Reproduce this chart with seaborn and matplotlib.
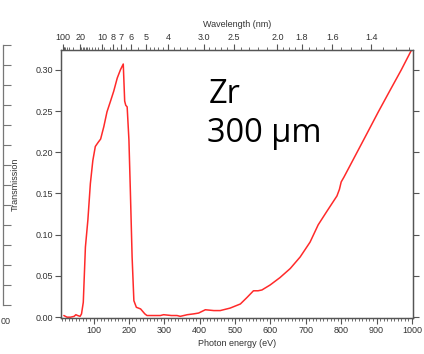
import numpy as np
import seaborn as sns
import matplotlib.pyplot as plt

# Zr 300 um transmission
energy = [16, 25, 35, 45, 50, 55, 62, 66, 71, 77, 84, 91, 98, 105, 113, 120,
          129, 138, 148, 157, 167, 176, 184, 188, 191, 195, 200, 204, 209, 214,
          221, 233, 245, 251, 270, 289, 298, 320, 336, 345, 365, 383, 397, 416,
          440, 458, 486, 515, 534, 552, 565, 576, 599, 627, 656, 684, 712, 735,
          759, 788, 795, 800, 808, 840, 872, 905, 938, 970, 1000]
transmission = [0.002, 0.000, 0.000, 0.001, 0.003, 0.002, 0.001, 0.004, 0.018,
                0.085, 0.118, 0.162, 0.190, 0.207, 0.212, 0.216, 0.231, 0.249,
                0.262, 0.274, 0.290, 0.300, 0.307, 0.262, 0.257, 0.255, 0.215,
                0.154, 0.073, 0.020, 0.012, 0.010, 0.004, 0.002, 0.002, 0.002,
                0.003, 0.002, 0.002, 0.001, 0.003, 0.004, 0.005, 0.009, 0.008,
                0.008, 0.011, 0.016, 0.024, 0.032, 0.032, 0.033, 0.039, 0.048,
                0.059, 0.073, 0.091, 0.112, 0.128, 0.147, 0.155, 0.164, 0.170,
                0.196, 0.222, 0.249, 0.275, 0.300, 0.325]

y_ticks = [0.00, 0.05, 0.10, 0.15, 0.20, 0.25, 0.30]
x_ticks = [100, 200, 300, 400, 500, 600, 700, 800, 900, 1000]
wl_labels = ["100", "20", "10", "8", "7", "6", "5", "4", "3.0", "2.5", "2.0", "1.8", "1.6", "1.4"]
wl_minor = ([90, 80, 70, 60, 50, 40, 30] + list(range(19, 10, -1)) +
            [9.5, 8.5, 7.5, 6.5, 5.5, 4.8, 4.6, 4.4, 4.2, 3.8, 3.6, 3.4, 3.2,
             2.9, 2.8, 2.7, 2.6, 2.4, 2.3, 2.2, 2.1, 1.95, 1.9, 1.85, 1.75, 1.7,
             1.65, 1.55, 1.5, 1.45, 1.35, 1.3, 1.25])

hc = 1239.84  # eV nm

sns.set_theme(style="ticks")
plt.rcParams['font.family'] = ['Liberation Sans', 'DejaVu Sans']
spine_col = '#555555'
text_col = '#333333'

fig = plt.figure(figsize=(4.24, 3.54), dpi=100)
W, H = 424, 354
ax = fig.add_axes([61 / W, (H - 318) / H, (413 - 61) / W, (318 - 50) / H])

sns.lineplot(x=energy, y=transmission, color='#ff2a2a', lw=1.1, ax=ax)
ax.set_xlim(8, 1003)
ax.set_ylim(-0.001, 0.324)

ax.set_xticks(x_ticks)
ax.set_xticks(np.arange(10, 1001, 10), minor=True)
ax.set_yticks(y_ticks)
ax.set_yticklabels([f"{v:.2f}" for v in y_ticks])
ax.tick_params(axis='both', which='major', direction='out', length=4, width=0.8,
               color=spine_col, labelsize=6.5, labelcolor=text_col, pad=2)
ax.tick_params(axis='x', which='minor', direction='out', length=2, width=0.6, color=spine_col)
ax.tick_params(axis='y', right=True, which='major')
ax.set_xlabel("Photon energy (eV)", fontsize=6.5, color=text_col, labelpad=3)
ax.set_ylabel("Transmission", fontsize=6.5, color=text_col, va='center')
ax.yaxis.set_label_coords(-0.131, 0.5)
for s in ax.spines.values():
    s.set_visible(True)
    s.set_color(spine_col)
    s.set_linewidth(0.9)

# top axis: wavelength
ax2 = ax.twiny()
ax2.set_xlim(ax.get_xlim())
ax2.set_xticks([hc / float(w) for w in wl_labels])
ax2.set_xticklabels(wl_labels)
ax2.set_xticks([hc / w for w in wl_minor], minor=True)
ax2.tick_params(axis='x', which='major', direction='out', length=4, width=0.8,
                color=spine_col, labelsize=6.5, labelcolor=text_col, pad=2)
ax2.tick_params(axis='x', which='minor', direction='out', length=2, width=0.6, color=spine_col)
ax2.set_xlabel("Wavelength (nm)", fontsize=6.5, color=text_col, labelpad=4)
for s in ax2.spines.values():
    s.set_color(spine_col)
    s.set_linewidth(0.9)

# annotation
fig.text(209 / W, 1 - 103 / H, "Zr", fontsize=23.5, family=['Open Sans', 'DejaVu Sans'],
         color='black', va='baseline')
fig.text(207 / W, 1 - 142 / H, "300 µm", fontsize=23.5, family=['Open Sans', 'DejaVu Sans'],
         color='black', va='baseline')

# fragment of the neighbouring panel at the left edge
ax0 = fig.add_axes([3 / W, (H - 305) / H, 20 / W, (305 - 45) / H])
ax0.set_ylim(0, 13)
ax0.set_yticks(np.arange(14))
ax0.set_yticklabels([])
ax0.set_xticks([])
ax0.patch.set_alpha(0)
for k in ['top', 'right', 'bottom']:
    ax0.spines[k].set_visible(False)
ax0.spines['left'].set_color('#777777')
ax0.spines['left'].set_linewidth(0.9)
ax0.tick_params(axis='y', direction='in', length=6, width=0.8, color='#777777')
fig.text(0.5 / W, 1 - 324 / H, "00", fontsize=6.5, color=text_col, ha='left')

fig.savefig("out.png", dpi=100)
